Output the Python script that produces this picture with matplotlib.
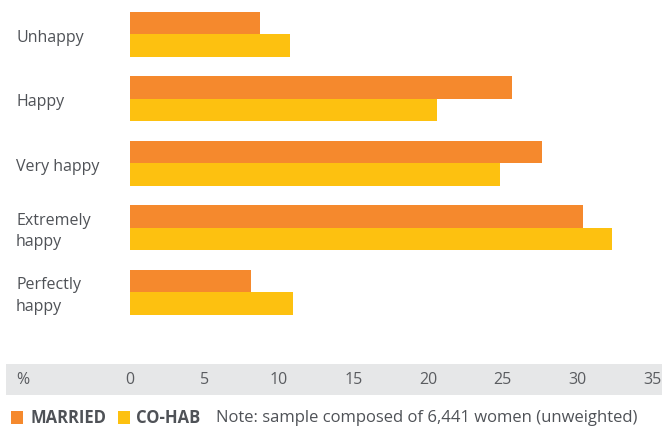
import numpy as np
import matplotlib
matplotlib.use("Agg")
import matplotlib.pyplot as plt
from matplotlib.patches import Rectangle

# Happiness in relationship, % of women
categories = ["Unhappy", "Happy", "Very happy", "Extremely\nhappy", "Perfectly\nhappy"]
married = [8.7, 25.6, 27.6, 30.4, 8.1]
cohab = [10.7, 20.6, 24.8, 32.3, 10.9]
xticks = [0, 5, 10, 15, 20, 25, 30, 35]

ORANGE = "#F5892D"
YELLOW = "#FDC110"
BAND = "#E6E7E8"
TEXT = "#4F5257"

plt.rcParams['font.family'] = ['Open Sans', 'DejaVu Sans']

W, H = 665, 427
fig = plt.figure(figsize=(W / 100, H / 100), dpi=100)

def box(x0, y0, x1, y1):
    # pixel box (top-left origin) -> figure fraction rect
    return [x0 / W, 1 - y1 / H, (x1 - x0) / W, (y1 - y0) / H]

# main bar area
x0_px, x35_px = 130, 652
row = 64.5
top_px, bot_px = 0, 330
ax = fig.add_axes(box(x0_px, top_px, x35_px, bot_px))
pos = np.arange(len(categories))
h = 22.5 / row
ax.barh(pos - h / 2, married, height=h, color=ORANGE, linewidth=0)
ax.barh(pos + h / 2, cohab, height=h, color=YELLOW, linewidth=0)
ax.set_xlim(0, 35)
ax.set_ylim((bot_px - 35) / row, -35 / row)
ax.axis("off")

lab_x = -(x0_px - 16) / (x35_px - x0_px) * 35
for i, c in enumerate(categories):
    ax.text(lab_x, i + 3 / row, c, ha="left", va="center",
            fontsize=11.5, color=TEXT, linespacing=1.45, clip_on=False)

# grey scale band
scale = (x35_px - x0_px) / 35
bx0, bx1 = 6, 662
axb = fig.add_axes(box(bx0, 365, bx1, 396))
axb.set_xlim((bx0 - x0_px) / scale, (bx1 - x0_px) / scale)
axb.set_ylim(0, 1)
axb.set_facecolor(BAND)
for s in axb.spines.values():
    s.set_visible(False)
axb.set_xticks([])
axb.set_yticks([])
for t in xticks:
    axb.text(t, 0.5, str(t), ha="center", va="center", fontsize=11.5, color="#5A5C60")
axb.text((16 - x0_px) / scale, 0.5, "%", ha="left", va="center", fontsize=11.5, color="#5A5C60")

# legend line
fig.patches.append(Rectangle((11 / W, 1 - 425 / H), 12 / W, 13 / H,
                             transform=fig.transFigure, color=ORANGE, lw=0))
fig.patches.append(Rectangle((118 / W, 1 - 425 / H), 12 / W, 13 / H,
                             transform=fig.transFigure, color=YELLOW, lw=0))
ly = 1 - 418.5 / H
fig.text(30 / W, ly, "MARRIED", fontsize=12, fontweight="bold", color=TEXT, va="center")
fig.text(136 / W, ly, "CO-HAB", fontsize=12, fontweight="bold", color=TEXT, va="center")
fig.text(216 / W, ly, "Note: sample composed of 6,441 women (unweighted)",
         fontsize=12, color=TEXT, va="center")

fig.savefig("out.png", dpi=100)
